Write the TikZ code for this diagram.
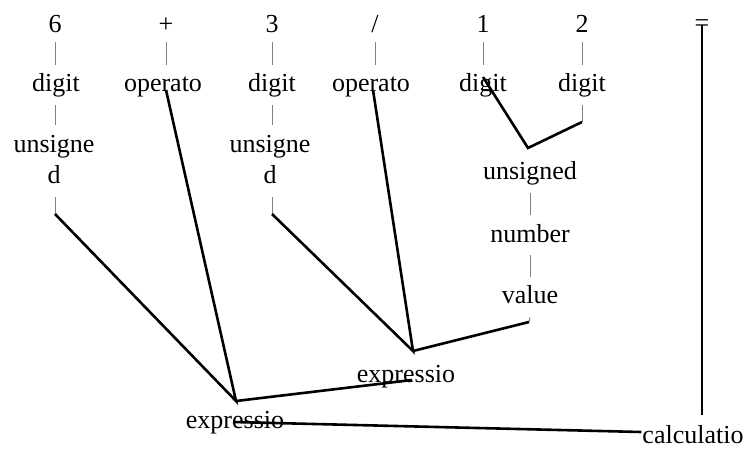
\documentclass[tikz,border=0pt]{standalone}
\usepackage{fontspec}
\setmainfont{Liberation Serif}

\begin{document}
\begin{tikzpicture}[x=1pt, y=-1pt, every node/.style={font=\fontsize{26}{31}\selectfont, inner sep=0pt, anchor=base}, align=center,
    bar/.style={draw=black!50, line width=0.9pt},
    branch/.style={draw=black, line width=2.6pt, line join=miter}]
  \useasboundingbox (0,0) rectangle (749,448);

  % input tokens
  \node (tok6) at (55,32) {6};
  \node (tokplus) at (166,32) {+};
  \node (tok3) at (272,32) {3};
  \node (tokdiv) at (375,32) {/};
  \node (tok1) at (483,32) {1};
  \node (tok2) at (582,32) {2};
  \node (tokeq) at (702,31) {=};

  % second row
  \node (dig6) at (56,91) {digit};
  \node (opplus) at (163,91) {operato};
  \node (dig3) at (272,91) {digit};
  \node (opdiv) at (371,91) {operato};
  \node (dig1) at (483,91) {digit};
  \node (dig2) at (582,91) {digit};

  \node (uns6) at (54,183) {unsigne\\d};
  \node (uns3) at (270,183) {unsigne\\d};

  \node (uns12) at (530,179) {unsigned};
  \node (num) at (530,242) {number};
  \node (val) at (530,303) {value};

  \node (expr2) at (406,382) {expressio};
  \node (expr1) at (235,428) {expressio};
  \node (calc) at (693,443) {calculatio};

  % junctions and stub ends
  \coordinate (j-expr1) at (236,401);
  \coordinate (j-expr2) at (413,351);
  \coordinate (j-uns12) at (528,148);
  \coordinate (uns6-end) at (55,214);
  \coordinate (uns3-end) at (272,214);
  \coordinate (dig2-end) at (582,122);
  \coordinate (val-end) at (529,322);
  \coordinate (calc-up) at (702,415);

  % thin chains
  \draw [bar] ([yshift=-10pt]tok6.base) -- ([yshift=26pt]dig6.base -| tok6);
  \draw [bar] ([yshift=-10pt]tokplus.base) -- ([yshift=26pt]opplus.base -| tokplus);
  \draw [bar] ([yshift=-10pt]tok3.base) -- ([yshift=26pt]dig3.base);
  \draw [bar] ([yshift=-10pt]tokdiv.base) -- ([yshift=26pt]opdiv.base -| tokdiv);
  \draw [bar] ([yshift=-10pt]tok1.base) -- ([yshift=26pt]dig1.base);
  \draw [bar] ([yshift=-10pt]tok2.base) -- ([yshift=26pt]dig2.base);
  \draw [bar] ([yshift=-14pt]dig6.base -| tok6) -- ([yshift=58pt]uns6.base -| tok6);
  \draw [bar] ([yshift=-14pt]dig3.base) -- ([yshift=58pt]uns3.base -| tok3);
  \draw [bar] ([yshift=-14pt]dig2.base) -- (dig2-end);
  \draw [bar] ([yshift=-14pt]uns12.base) -- ([yshift=27pt]num.base);
  \draw [bar] ([yshift=-13pt]num.base) -- ([yshift=26pt]val.base);
  \draw [bar] ([yshift=-14pt]val.base) -- (val-end);
  \draw [bar] ([yshift=-14pt]uns6.base -| uns6-end) -- (uns6-end);
  \draw [bar] ([yshift=-14pt]uns3.base -| uns3-end) -- (uns3-end);

  % branches
  \draw [branch] (uns6-end) -- (j-expr1) -- ([xshift=3pt,yshift=1pt]opplus.base);
  \draw [branch] (j-expr1) -- ([xshift=6pt,yshift=2pt]expr2.base);
  \draw [branch] (uns3-end) -- (j-expr2) -- ([xshift=2pt,yshift=1pt]opdiv.base);
  \draw [branch] (j-expr2) -- (val-end);
  \draw [branch] ([yshift=14pt]dig1.base) -- (j-uns12) -- (dig2-end);
  \draw [branch] ([xshift=-2pt,yshift=6pt]expr1.base) -- ([xshift=-1pt,yshift=11pt]calc.base west);
  \draw [branch] ([yshift=6pt]tokeq.base) -- (calc-up);
\end{tikzpicture}
\end{document}
